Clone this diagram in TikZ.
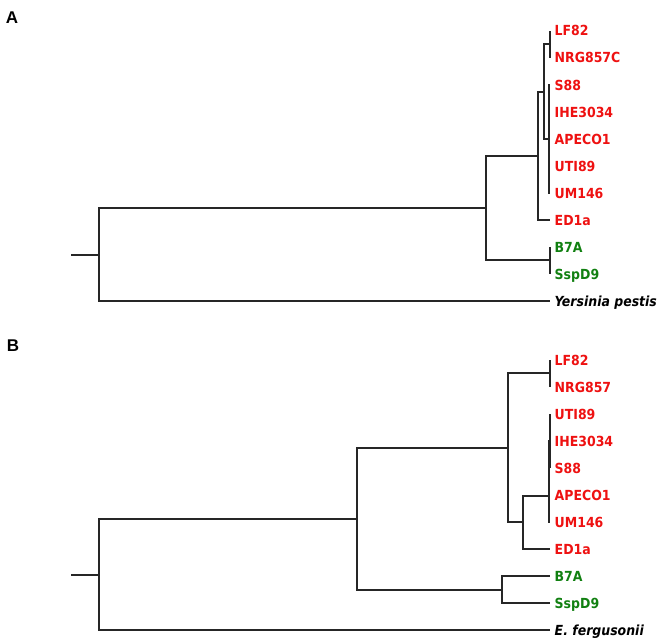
\documentclass[tikz,border=0pt]{standalone}
\usepackage{fontspec}
\setmainfont{DejaVu Sans Condensed}
\newfontfamily\panelfont{Liberation Sans}
\definecolor{ecred}{RGB}{238,17,17}
\definecolor{ecgreen}{RGB}{17,128,17}
\begin{document}
\begin{tikzpicture}[x=1pt,y=-1pt,
  br/.style={draw=black!85,line width=1.2pt},
  leaf/.style={anchor=west,inner xsep=4.5pt,inner ysep=0pt,text height=10pt,text depth=0pt,
    font=\bfseries\fontsize{13.9}{16}\selectfont},
  redleaf/.style={leaf,text=ecred},
  greenleaf/.style={leaf,text=ecgreen},
  outleaf/.style={leaf,text=black,font=\bfseries\itshape\fontsize{13.9}{16}\selectfont},
  panel/.style={anchor=center,inner sep=0pt,font=\panelfont\bfseries\fontsize{17}{18}\selectfont}]
\useasboundingbox (0,0) rectangle (666,642);

% ---------- Panel A ----------
\node[panel] (pA) at (12,18) {A};
\node[redleaf] (aLF) at (550,31) {LF82};
\node[redleaf] (aNRG) at (550,58) {NRG857C};
\node[redleaf] (aS88) at (550,85) {S88};
\node[redleaf] (aIHE) at (550,112) {IHE3034};
\node[redleaf] (aAPE) at (550,139) {APECO1};
\node[redleaf] (aUTI) at (550,166) {UTI89};
\node[redleaf] (aUM) at (550,193) {UM146};
\node[redleaf] (aED) at (550,220) {ED1a};
\node[greenleaf] (aB7) at (550,247) {B7A};
\node[greenleaf] (aSsp) at (550,274) {SspD9};
\node[outleaf] (aYp) at (550,301) {Yersinia pestis};

\coordinate (a0) at (71,255);
\coordinate (a1) at (99,255);
\coordinate (a2) at (486,208);
\coordinate (a3) at (538,156);
\coordinate (a4) at (544,92);
\coordinate (a5) at (550,44);
\coordinate (a6) at (549,139);
\coordinate (a7) at (550,260);

\draw[br] (a0) -- (a1);
\draw[br] (a1) |- (a2);
\draw[br] (a1) |- (aYp.west);
\draw[br] (a2) |- (a3);
\draw[br] (a2) |- (a7);
\draw[br] (a3) |- (a4);
\draw[br] (a3) |- (aED.west);
\draw[br] (a4) |- (a5);
\draw[br] (a4) |- (a6);
\draw[br] (a5) |- (aLF.west);
\draw[br] (a5) |- (aNRG.west);
\draw[br] (a6) |- (aS88.west);
\draw[br] (a6) |- (aIHE.west);
\draw[br] (a6) |- (aAPE.west);
\draw[br] (a6) |- (aUTI.west);
\draw[br] (a6) |- (aUM.west);
\draw[br] (a7) |- (aB7.west);
\draw[br] (a7) |- (aSsp.west);

% ---------- Panel B ----------
\node[panel] (pB) at (13,345.5) {B};
\node[redleaf] (bLF) at (550,360) {LF82};
\node[redleaf] (bNRG) at (550,387) {NRG857};
\node[redleaf] (bUTI) at (550,414) {UTI89};
\node[redleaf] (bIHE) at (550,441) {IHE3034};
\node[redleaf] (bS88) at (550,468) {S88};
\node[redleaf] (bAPE) at (550,495) {APECO1};
\node[redleaf] (bUM) at (550,522) {UM146};
\node[redleaf] (bED) at (550,549) {ED1a};
\node[greenleaf] (bB7) at (550,576) {B7A};
\node[greenleaf] (bSsp) at (550,603) {SspD9};
\node[outleaf] (bEf) at (550,630) {E. fergusonii};

\coordinate (b0) at (71,575);
\coordinate (b1) at (99,575);
\coordinate (b2) at (357,519);
\coordinate (b3) at (508,448);
\coordinate (b4) at (550,373);
\coordinate (b5) at (523,522);
\coordinate (b6) at (549,496);
\coordinate (b6b) at (550,441);
\coordinate (b7) at (502,590);

\draw[br] (b0) -- (b1);
\draw[br] (b1) |- (b2);
\draw[br] (b1) |- (bEf.west);
\draw[br] (b2) |- (b3);
\draw[br] (b2) |- (b7);
\draw[br] (b3) |- (b4);
\draw[br] (b3) |- (b5);
\draw[br] (b4) |- (bLF.west);
\draw[br] (b4) |- (bNRG.west);
\draw[br] (b5) |- (b6);
\draw[br] (b5) |- (bED.west);
\draw[br] (b6) |- (b6b);
\draw[br] (b6) |- (bAPE.west);
\draw[br] (b6) |- (bUM.west);
\draw[br] (b6b) |- (bUTI.west);
\draw[br] (b6b) |- (bIHE.west);
\draw[br] (b6b) |- (bS88.west);
\draw[br] (b7) |- (bB7.west);
\draw[br] (b7) |- (bSsp.west);
\end{tikzpicture}
\end{document}
